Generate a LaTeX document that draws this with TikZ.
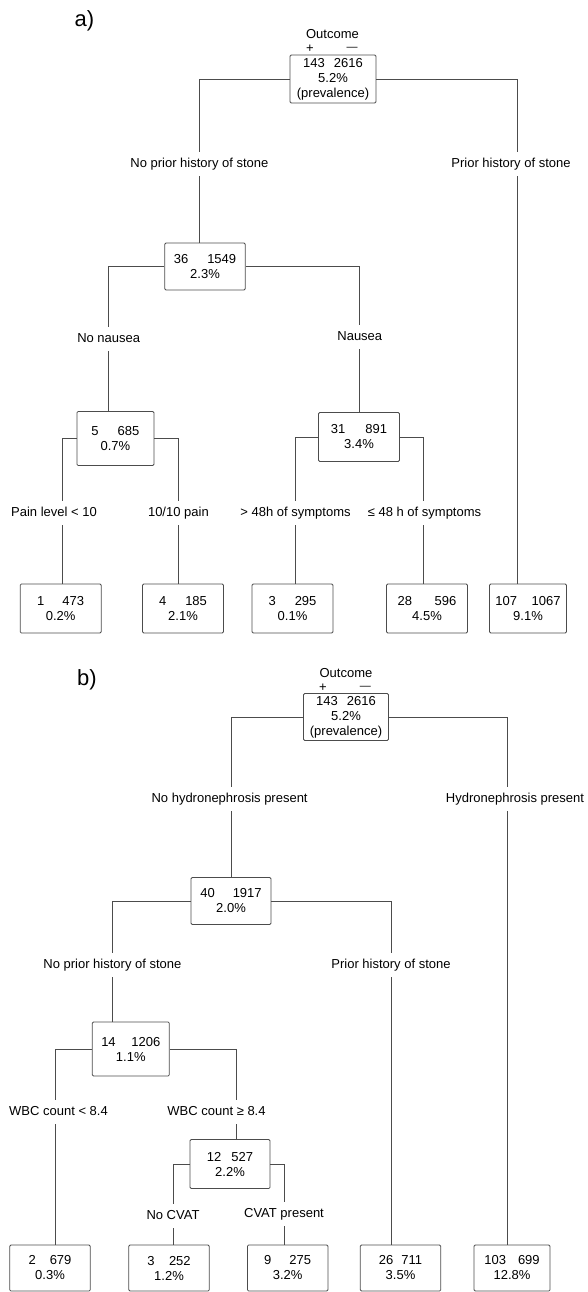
\documentclass[tikz,border=0pt]{standalone}
\usepackage{fontspec}
\setmainfont{Liberation Sans}
\definecolor{treeline}{gray}{0.3}
\begin{document}
\begin{tikzpicture}[x=1pt, y=-1pt,
    box/.style={draw=treeline, line width=0.8pt, rounded corners=1.2pt, align=center, inner sep=0pt, font=\fontsize{13}{15}\selectfont},
    lbl/.style={fill=white, inner xsep=1.5pt, inner ysep=6pt, text height=9.5pt, text depth=2.7pt, font=\fontsize{13}{15}\selectfont},
    head/.style={inner sep=0pt, font=\fontsize{13}{15}\selectfont},
    edge/.style={draw=treeline, line width=0.8pt},
    tag/.style={inner sep=0pt, font=\fontsize{22}{24}\selectfont}]
  \useasboundingbox (0,0) rectangle (587,1292);

  % a) tree
  \node[tag] (tagA) at (84.5,21) {a)};
  \node[head] (outA) at (332.5,34) {Outcome};
  \node[head] (posA) at (310,49) {+};
  \node[head, font=\fontsize{11}{13}\selectfont] (negA) at (352,49) {—};
  \node[box, minimum width=86pt, minimum height=48pt] (rA) at (333,79) {143\hspace{9pt}2616\\5.2\%\\(prevalence)};
  \node[box, minimum width=80.5pt, minimum height=47pt] (a1) at (205,266.5) {36\hspace{19pt}1549\\2.3\%};
  \node[box, minimum width=77pt, minimum height=54pt] (a2) at (115.4,438.5) {5\hspace{19pt}685\\0.7\%};
  \node[box, minimum width=81pt, minimum height=49pt] (a3) at (359,437) {31\hspace{20pt}891\\3.4\%};
  \foreach \n/\x/\t in {lA1/60.7/1\hspace{18pt}473\\0.2\%, lA2/183/4\hspace{19pt}185\\2.1\%,
      lA3/292.5/3\hspace{19pt}295\\0.1\%, lA4/427/28\hspace{22.5pt}596\\4.5\%}{
    \node[box, minimum width=81pt, minimum height=49pt] (\n) at (\x,608.5) {\t};
  }
  \node[box, minimum width=77pt, minimum height=49pt] (lA5) at (528,608.5) {107\hspace{14.6pt}1067\\9.1\%};

  \draw[edge] (rA.west) -| ([xshift=-5.6pt]a1.north);
  \draw[edge] (rA.east) -| ([xshift=-10.4pt]lA5.north);
  \draw[edge] (a1.west) -| ([xshift=-6.7pt]a2.north);
  \draw[edge] (a1.east) -| (a3.north);
  \draw[edge] (a2.west) -| ([xshift=1.5pt]lA1.north);
  \draw[edge] (a2.east) -| ([xshift=-4.6pt]lA2.north);
  \draw[edge] (a3.west) -| ([xshift=2.8pt]lA3.north);
  \draw[edge] (a3.east) -| ([xshift=-3.5pt]lA4.north);

  \node[lbl] (sA1) at (199.4,164) {No prior history of stone};
  \node[lbl] (sA2) at (511,164) {Prior history of stone};
  \node[lbl] (sA3) at (108.7,339) {No nausea};
  \node[lbl] (sA4) at (359.8,337) {Nausea};
  \node[lbl] (sA5) at (54,513) {Pain level < 10};
  \node[lbl] (sA6) at (178.4,513) {10/10 pain};
  \node[lbl] (sA7) at (295.5,513) {> 48h of symptoms};
  \node[lbl] (sA8) at (424.5,513) {≤ 48 h of symptoms};

  % b) tree
  \node[tag] (tagB) at (87,680) {b)};
  \node[head] (outB) at (346,673) {Outcome};
  \node[head] (posB) at (323,688) {+};
  \node[head, font=\fontsize{11}{13}\selectfont] (negB) at (365.4,688) {—};
  \node[box, minimum width=85pt, minimum height=47pt] (rB) at (346,717) {143\hspace{9pt}2616\\5.2\%\\(prevalence)};
  \node[box, minimum width=80pt, minimum height=47pt] (b1) at (231,901) {40\hspace{18pt}1917\\2.0\%};
  \node[box, minimum width=77pt, minimum height=54pt] (b2) at (130.8,1049) {14\hspace{15.7pt}1206\\1.1\%};
  \node[box, minimum width=80pt, minimum height=49pt] (b3) at (230,1164) {12\hspace{10pt}527\\2.2\%};
  \foreach \n/\x/\t in {lB1/50/2\hspace{14pt}679\\0.3\%, lB2/169/3\hspace{14.5pt}252\\1.2\%,
      lB3/287.7/9\hspace{18pt}275\\3.2\%, lB4/400.5/26\hspace{8pt}711\\3.5\%}{
    \node[box, minimum width=80.5pt, minimum height=46pt] (\n) at (\x,1268) {\t};
  }
  \node[box, minimum width=76pt, minimum height=46pt] (lB5) at (512,1268) {103\hspace{12pt}699\\12.8\%};

  \draw[edge] (rB.west) -| (b1.north);
  \draw[edge] (rB.east) -| ([xshift=-5pt]lB5.north);
  \draw[edge] (b1.west) -| ([xshift=-18.4pt]b2.north);
  \draw[edge] (b1.east) -| ([xshift=-8.8pt]lB4.north);
  \draw[edge] (b2.west) -| ([xshift=5pt]lB1.north);
  \draw[edge] (b2.east) -| ([xshift=6pt]b3.north);
  \draw[edge] (b3.west) -| ([xshift=4pt]lB2.north);
  \draw[edge] (b3.east) -| ([xshift=-3.7pt]lB3.north);

  \node[lbl] (sB1) at (229.6,799) {No hydronephrosis present};
  \node[lbl] (sB2) at (515,799) {Hydronephrosis present};
  \node[lbl] (sB3) at (112.4,965) {No prior history of stone};
  \node[lbl] (sB4) at (391,965) {Prior history of stone};
  \node[lbl] (sB5) at (58.5,1112) {WBC count < 8.4};
  \node[lbl] (sB6) at (216.5,1112) {WBC count ≥ 8.4};
  \node[lbl] (sB7) at (173,1216) {No CVAT};
  \node[lbl] (sB8) at (284,1214) {CVAT present};
\end{tikzpicture}
\end{document}
